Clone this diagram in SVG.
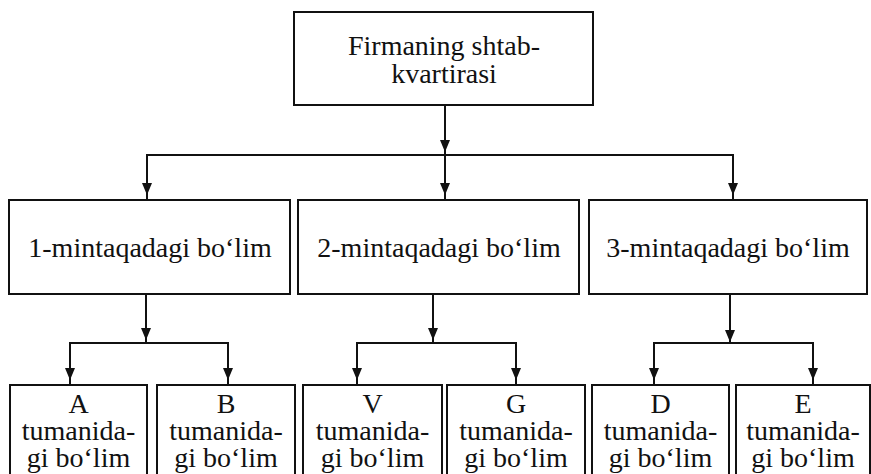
<svg xmlns="http://www.w3.org/2000/svg" width="871" height="474" viewBox="0 0 871 474">
  <style>
    .box { fill: #fff; stroke: #111; stroke-width: 2; }
    .lbl { font-family: "Liberation Serif", "Times New Roman", serif; font-size: 28px; fill: #111; text-anchor: middle; }
    .wire { fill: none; stroke: #111; stroke-width: 2; }
    .head { fill: #111; }
  </style>
  <defs>
    <path id="ah" class="head" d="M -5 -12 L 5 -12 L 0 0 Z"/>
  </defs>
  <rect width="871" height="474" fill="#fff"/>

  <g id="connectors">
    <!-- headquarters to regional row -->
    <path class="wire" d="M 445 105 V 200"/>
    <path class="wire" d="M 147 200 V 155 H 733 V 200"/>
    <use href="#ah" x="445" y="152"/>
    <use href="#ah" x="147" y="195"/>
    <use href="#ah" x="445" y="195"/>
    <use href="#ah" x="733" y="195"/>
    <!-- region 1 to districts A, B -->
    <path class="wire" d="M 146 294 V 343"/>
    <path class="wire" d="M 70 385 V 343 H 228 V 385"/>
    <use href="#ah" x="146" y="340"/>
    <use href="#ah" x="70" y="380"/>
    <use href="#ah" x="228" y="380"/>
    <!-- region 2 to districts V, G -->
    <path class="wire" d="M 433 294 V 343"/>
    <path class="wire" d="M 357 385 V 343 H 516 V 385"/>
    <use href="#ah" x="433" y="340"/>
    <use href="#ah" x="357" y="380"/>
    <use href="#ah" x="516" y="380"/>
    <!-- region 3 to districts D, E -->
    <path class="wire" d="M 730 294 V 343"/>
    <path class="wire" d="M 654 385 V 343 H 813 V 385"/>
    <use href="#ah" x="730" y="342"/>
    <use href="#ah" x="654" y="380"/>
    <use href="#ah" x="813" y="380"/>
  </g>

  <g id="hq">
    <rect class="box" x="294" y="12" width="299" height="93"/>
    <text class="lbl" x="444" y="55">Firmaning shtab-</text>
    <text class="lbl" x="444" y="83">kvartirasi</text>
  </g>

  <g id="region1">
    <rect class="box" x="9" y="200" width="281" height="94"/>
    <text class="lbl" x="150" y="257">1-mintaqadagi bo‘lim</text>
  </g>
  <g id="region2">
    <rect class="box" x="298" y="200" width="281" height="94"/>
    <text class="lbl" x="439" y="257">2-mintaqadagi bo‘lim</text>
  </g>
  <g id="region3">
    <rect class="box" x="589" y="200" width="278" height="94"/>
    <text class="lbl" x="728" y="257">3-mintaqadagi bo‘lim</text>
  </g>

  <g id="districtA">
    <rect class="box" x="10" y="385" width="137" height="100"/>
    <text class="lbl" x="78.5" y="413">A</text>
    <text class="lbl" x="78.5" y="440">tumanida-</text>
    <text class="lbl" x="78.5" y="467">gi bo‘lim</text>
  </g>
  <g id="districtB">
    <rect class="box" x="157" y="385" width="138" height="100"/>
    <text class="lbl" x="226" y="413">B</text>
    <text class="lbl" x="226" y="440">tumanida-</text>
    <text class="lbl" x="226" y="467">gi bo‘lim</text>
  </g>
  <g id="districtV">
    <rect class="box" x="303" y="385" width="139" height="100"/>
    <text class="lbl" x="372.5" y="413">V</text>
    <text class="lbl" x="372.5" y="440">tumanida-</text>
    <text class="lbl" x="372.5" y="467">gi bo‘lim</text>
  </g>
  <g id="districtG">
    <rect class="box" x="447" y="385" width="138" height="100"/>
    <text class="lbl" x="516" y="413">G</text>
    <text class="lbl" x="516" y="440">tumanida-</text>
    <text class="lbl" x="516" y="467">gi bo‘lim</text>
  </g>
  <g id="districtD">
    <rect class="box" x="592" y="385" width="137" height="100"/>
    <text class="lbl" x="660.5" y="413">D</text>
    <text class="lbl" x="660.5" y="440">tumanida-</text>
    <text class="lbl" x="660.5" y="467">gi bo‘lim</text>
  </g>
  <g id="districtE">
    <rect class="box" x="736" y="385" width="134" height="100"/>
    <text class="lbl" x="803" y="413">E</text>
    <text class="lbl" x="803" y="440">tumanida-</text>
    <text class="lbl" x="803" y="467">gi bo‘lim</text>
  </g>
</svg>
